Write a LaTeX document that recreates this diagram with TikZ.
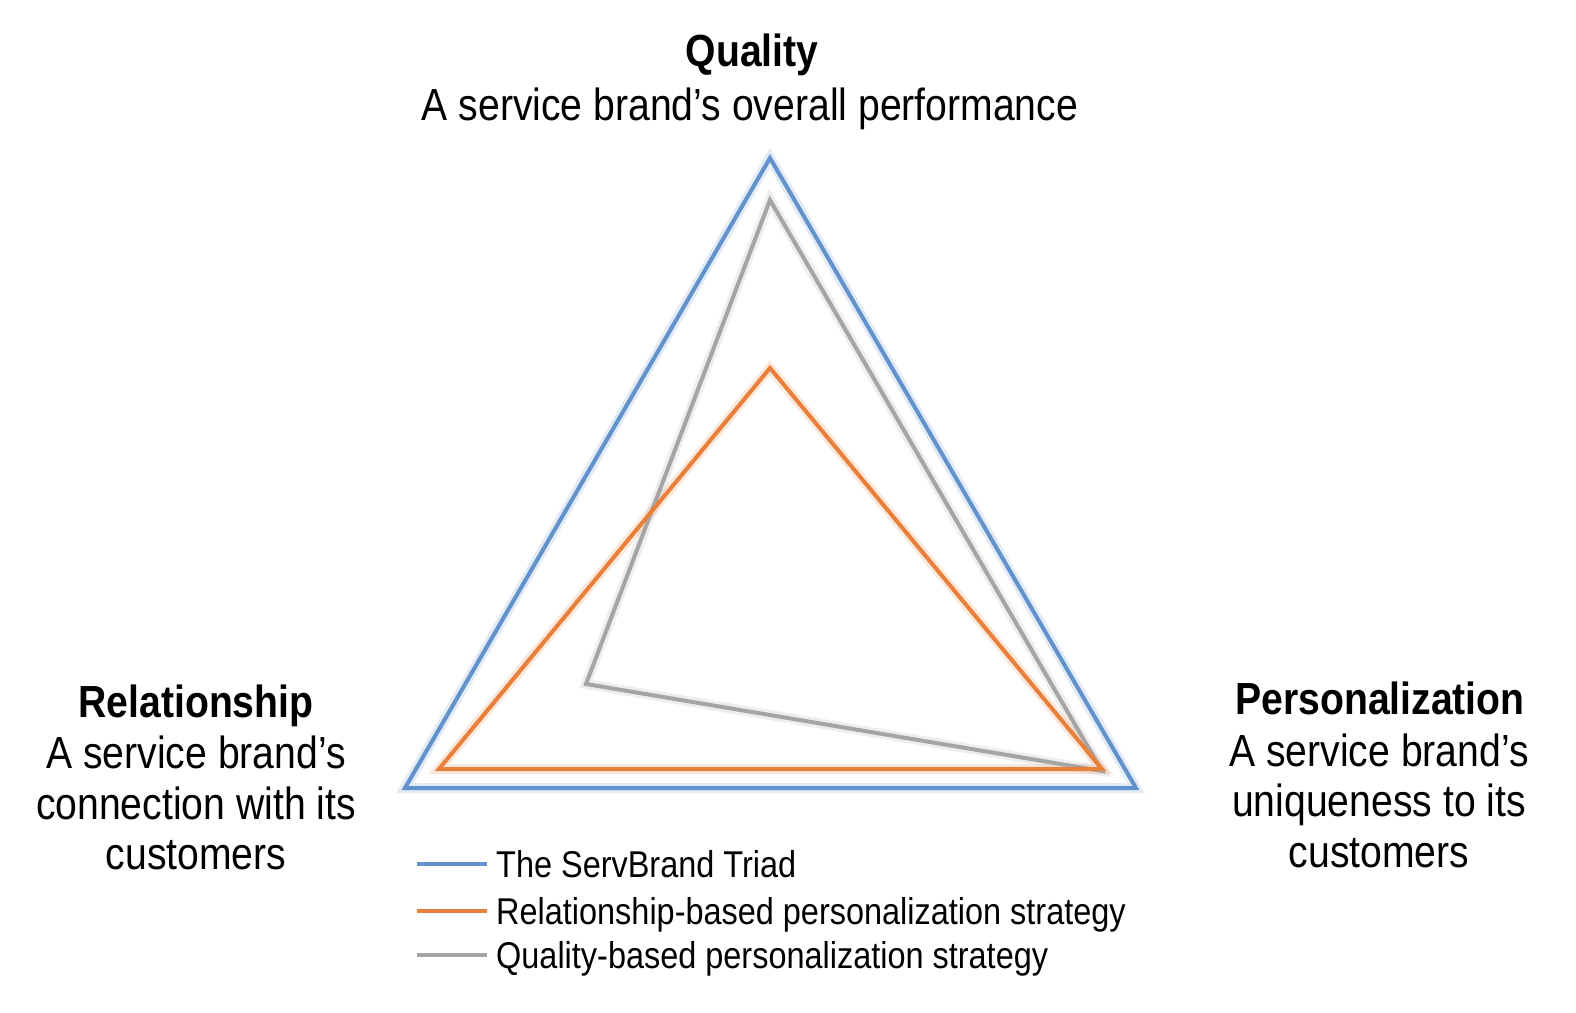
\documentclass[tikz,border=0pt]{standalone}
\usepackage{fontspec}
\setmainfont{Liberation Sans}[FakeStretch=0.87]
\definecolor{triblue}{RGB}{98,146,204}
\definecolor{triorange}{RGB}{232,128,60}
\definecolor{trigray}{RGB}{165,165,165}
\begin{document}
\begin{tikzpicture}[x=1pt,y=-1pt,
  lbl/.style={inner sep=0pt,anchor=base,font=\fontsize{45}{50}\selectfont},
  hdr/.style={lbl,font=\fontsize{45}{50}\selectfont\bfseries},
  leg/.style={inner sep=0pt,anchor=base west,font=\fontsize{37.3}{40}\selectfont},
  tri/.style={line width=4pt,line join=miter},
  halo/.style={line width=10pt,line join=miter,opacity=0.18}
]
\useasboundingbox[fill=white] (0,0) rectangle (1576,1012);
% vertices
\coordinate (bT) at (770,158);
\coordinate (bL) at (405,788);
\coordinate (bR) at (1136,788);
\coordinate (oT) at (770,368);
\coordinate (oL) at (439,769);
\coordinate (oR) at (1102,769);
\coordinate (gT) at (770,200);
\coordinate (gL) at (586,684);
\coordinate (gR) at (1102,771);
% halos
\draw[halo,triblue] (bT) -- (bL) -- (bR) -- cycle;
\draw[halo,trigray] (gT) -- (gL) -- (gR) -- cycle;
\draw[halo,triorange] (oT) -- (oL) -- (oR) -- cycle;
% triangles
\draw[tri,triblue] (bT) -- (bL) -- (bR) -- cycle;
\draw[tri,trigray] (gT) -- (gL) -- (gR) -- cycle;
\draw[tri,triorange] (oT) -- (oL) -- (oR) -- cycle;
% top label
\node[hdr] (qh) at (752,66) {Quality};
\node[lbl] (qd) at (750,120) {A service brand’s overall performance};
% left label
\node[hdr] (rh) at (196,717) {Relationship};
\node[lbl] (rd1) at (196,768) {A service brand’s};
\node[lbl] (rd2) at (196,819) {connection with its};
\node[lbl] (rd3) at (196,869) {customers};
% right label
\node[hdr] (ph) at (1380,714) {Personalization};
\node[lbl] (pd1) at (1379,766) {A service brand’s};
\node[lbl] (pd2) at (1379,816) {uniqueness to its};
\node[lbl] (pd3) at (1379,867) {customers};
% legend
\coordinate (l1a) at (417,864); \coordinate (l1b) at (487,864);
\coordinate (l2a) at (417,911); \coordinate (l2b) at (487,911);
\coordinate (l3a) at (417,955); \coordinate (l3b) at (487,955);
\draw[line width=3.5pt,triblue] (l1a) -- (l1b);
\draw[line width=3.5pt,triorange] (l2a) -- (l2b);
\draw[line width=3.5pt,trigray] (l3a) -- (l3b);
\node[leg] (t1) at (496,877) {The ServBrand Triad};
\node[leg] (t2) at (496,924) {Relationship-based personalization strategy};
\node[leg] (t3) at (496,968) {Quality-based personalization strategy};
\end{tikzpicture}
\end{document}
